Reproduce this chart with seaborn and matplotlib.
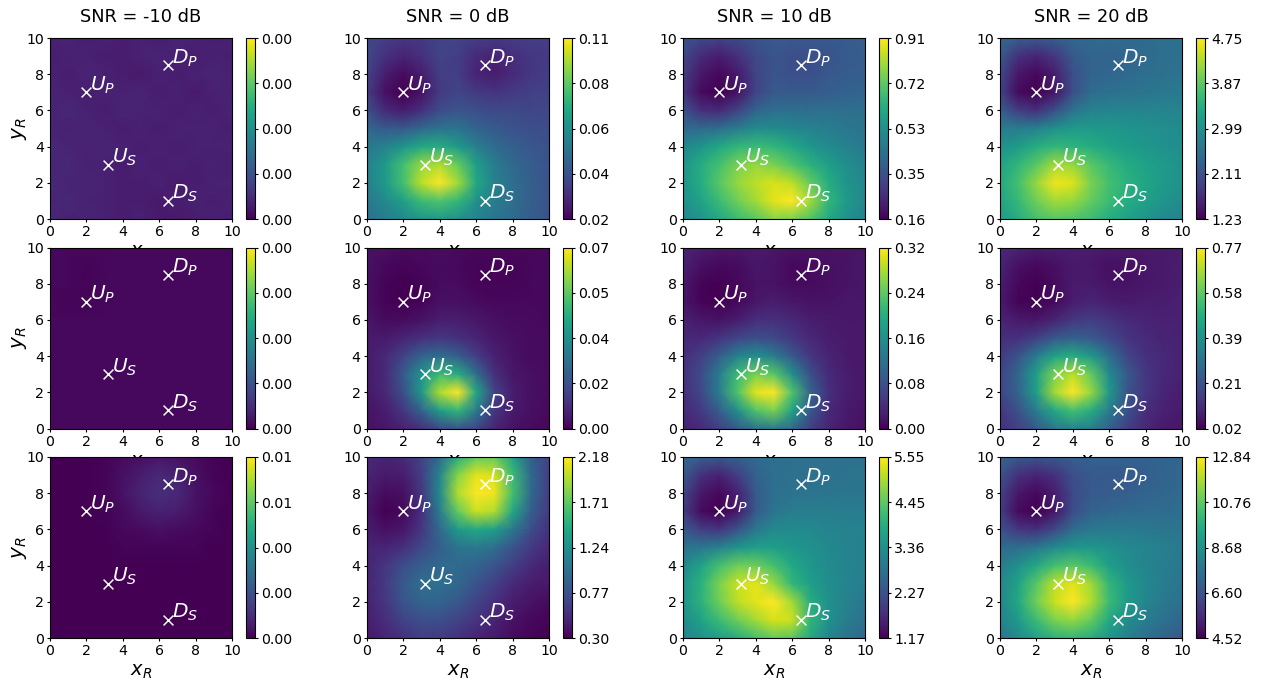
import numpy as np
import matplotlib
matplotlib.use('Agg')
import matplotlib.pyplot as plt
import seaborn as sns

# colour level of each panel, in % of its colour bar
# rows go from y=10 down to y=0, columns x=0..10
r0_m10 = [[9,10,8,9,8,9,8,10,9,8,9],[8,9,9,8,8,9,10,9,8,9,8],[9,8,10,9,8,7,9,8,9,10,9],
          [10,9,8,9,9,10,8,9,7,9,9],[9,11,9,8,10,9,9,8,9,8,10],[10,9,10,9,8,9,8,9,9,9,8],
          [11,10,9,10,9,8,9,8,9,9,9],[10,11,9,9,8,9,8,9,8,9,8],[11,10,10,9,8,8,9,7,8,9,9],
          [10,11,9,9,8,8,7,8,9,8,9],[11,9,10,9,8,9,7,7,8,9,8]]
r0_0 = [[22,18,16,17,20,20,18,17,18,18,18],[22,14,10,14,20,18,12,10,13,16,17],[20,8,3,8,18,18,10,8,12,16,18],
        [18,4,0,5,17,21,17,15,17,19,19],[24,12,8,14,23,26,24,22,22,21,21],[33,28,28,34,38,38,32,28,26,24,23],
        [40,44,52,60,62,54,43,35,30,27,25],[44,54,70,84,88,76,56,42,34,29,26],[43,54,70,90,100,86,60,44,36,30,26],
        [40,47,56,68,72,66,50,42,36,30,26],[37,42,47,52,54,50,44,39,34,29,25]]
r0_10 = [[26,22,20,22,26,28,28,28,28,29,30],[22,12,8,14,22,26,24,24,26,28,29],[18,6,2,7,20,26,24,24,27,29,30],
         [16,3,0,5,20,28,28,28,30,31,32],[25,14,12,20,32,36,36,36,36,36,36],[35,34,36,42,48,48,46,44,42,40,38],
         [46,52,60,66,68,66,60,53,48,44,41],[52,62,70,80,84,80,72,64,56,49,44],[52,62,74,84,90,94,90,76,62,52,46],
         [50,58,68,78,86,96,100,86,66,54,46],[46,52,60,68,74,82,80,72,60,50,44]]
r0_20 = [[34,30,28,30,33,34,34,34,35,36,37],[28,14,10,16,28,32,32,33,34,36,37],[22,6,2,8,24,32,33,34,36,37,38],
         [20,3,0,6,24,35,37,38,39,40,41],[30,18,14,24,38,44,45,45,45,45,45],[42,42,44,50,54,54,53,52,50,49,48],
         [50,55,62,66,65,62,58,55,53,51,49],[58,66,74,86,84,74,67,61,57,54,51],[60,70,84,98,95,80,70,64,59,54,51],
         [58,67,78,86,84,76,68,62,57,52,48],[55,62,70,74,72,68,62,57,52,47,44]]

r1_m10 = [[2,2,2,2,2,2,2,2,2,2,2],[2,2,1,2,2,2,2,2,2,2,2],[2,2,1,2,2,2,2,2,2,2,2],
          [2,1,1,2,2,2,2,2,2,2,2],[2,2,2,2,2,2,2,2,2,2,2],[2,2,2,2,2,2,2,2,2,2,2],
          [2,2,2,2,2,2,2,2,2,2,2],[2,2,2,2,2,2,2,2,2,2,2],[2,2,2,2,2,2,2,2,2,2,2],
          [2,2,2,2,2,2,2,2,2,2,2],[2,2,2,2,2,2,2,2,2,2,2]]
r1_0 = [[5,4,3,3,3,3,2,2,2,2,2],[5,2,1,2,3,2,1,1,1,2,2],[4,1,0,1,3,3,1,1,1,2,2],
        [4,1,0,1,4,4,3,2,2,2,2],[6,3,3,5,8,8,6,4,3,3,2],[7,7,10,14,16,14,10,6,4,3,3],
        [7,11,20,32,36,30,18,9,5,3,3],[7,12,28,52,68,62,36,14,6,4,3],[6,11,24,54,88,100,60,20,8,4,3],
        [5,8,16,32,56,66,42,16,7,4,2],[4,6,9,14,22,26,20,10,5,3,2]]
r1_10 = [[10,8,6,6,7,6,5,5,5,5,6],[9,4,2,3,6,5,2,3,4,5,6],[7,1,0,2,5,5,3,3,4,5,6],
         [6,1,0,2,6,8,6,5,5,6,6],[9,6,5,8,13,14,11,8,7,6,6],[11,11,15,21,24,22,16,11,8,7,6],
         [13,19,30,44,50,42,28,16,10,7,6],[14,23,42,68,80,74,50,24,12,8,6],[13,22,42,72,96,100,72,32,14,8,6],
         [11,17,30,50,72,80,58,28,12,7,5],[9,12,18,28,38,42,34,18,10,6,4]]
r1_20 = [[12,10,8,8,8,8,7,7,7,7,8],[10,4,2,4,7,6,4,4,6,7,8],[8,2,0,3,7,7,5,5,6,7,8],
         [7,1,0,3,8,10,8,7,8,8,9],[10,7,6,10,16,18,15,12,10,9,9],[13,14,19,27,31,28,22,15,12,10,9],
         [17,26,42,58,62,54,36,21,14,11,9],[20,33,56,80,90,76,48,28,16,11,9],[20,32,56,86,100,84,54,26,16,10,8],
         [16,25,42,60,70,62,42,25,13,9,7],[14,19,28,40,46,42,30,18,11,7,6]]

r2_m10 = [[0,0,0,1,3,4,6,5,3,1,0],[0,0,0,1,4,8,11,9,4,1,0],[0,0,0,1,5,10,13,11,5,2,0],
          [0,0,0,1,3,7,9,8,4,1,0],[0,0,0,0,2,3,4,3,2,1,0],[0,0,0,0,1,1,1,1,1,0,0],
          [0,0,0,0,0,0,0,0,0,0,0],[0,0,0,0,0,0,0,0,0,0,0],[0,0,0,0,0,0,0,0,0,0,0],
          [0,0,0,0,0,0,0,0,0,0,0],[0,0,0,0,0,0,0,0,0,0,0]]
r2_0 = [[12,10,12,20,35,62,76,76,58,30,20],[10,7,8,18,46,82,96,94,68,34,18],[8,3,4,16,48,88,100,98,70,34,18],
        [6,0,2,14,42,76,92,88,60,30,17],[8,4,6,16,34,54,60,56,40,24,14],[10,10,14,22,30,38,40,36,26,17,11],
        [10,16,24,30,34,34,32,26,18,12,8],[10,17,28,36,36,33,26,19,12,8,6],[9,16,26,32,32,27,20,14,8,5,3],
        [8,13,20,24,24,20,15,10,5,2,1],[6,10,14,18,17,14,10,7,3,1,0]]
r2_10 = [[34,30,28,31,35,37,37,37,37,37,37],[28,14,9,18,31,36,37,37,37,38,38],[22,6,2,9,28,36,38,38,39,39,39],
         [18,3,0,7,28,39,42,42,42,42,42],[28,18,16,26,40,47,48,47,45,44,44],[38,40,44,52,56,56,53,50,47,45,43],
         [46,58,70,78,78,70,60,53,48,45,43],[52,64,80,92,96,84,66,56,49,45,42],[52,64,78,90,96,100,86,62,50,44,40],
         [48,58,68,78,86,94,92,66,50,42,37],[44,50,56,62,70,76,74,60,46,38,33]]
r2_20 = [[33,28,26,28,30,31,31,31,31,32,33],[26,14,10,14,24,28,28,28,30,32,33],[20,6,2,8,22,28,29,30,32,33,34],
         [18,3,0,6,23,31,33,34,35,35,36],[26,16,14,22,35,40,41,41,40,39,39],[35,36,40,48,53,53,50,47,45,43,41],
         [42,50,60,70,74,68,56,49,45,42,40],[46,58,74,90,96,86,66,54,47,42,39],[46,60,78,92,100,88,68,54,46,40,37],
         [44,54,68,80,84,76,60,49,42,37,33],[39,47,57,64,66,62,52,43,36,32,28]]

panels = [[r0_m10, r0_0, r0_10, r0_20],
          [r1_m10, r1_0, r1_10, r1_20],
          [r2_m10, r2_0, r2_10, r2_20]]

snr_titles = ['SNR = -10 dB', 'SNR = 0 dB', 'SNR = 10 dB', 'SNR = 20 dB']

# colour bar limits
vmins = [[0.0, 0.02, 0.16, 1.23],
         [0.0, 0.0, 0.0, 0.02],
         [0.0, 0.30, 1.17, 4.52]]
vmaxs = [[0.004, 0.11, 0.91, 4.75],
         [0.004, 0.07, 0.32, 0.77],
         [0.008, 2.18, 5.55, 12.84]]

# colour bar labels, bottom to top
cbar_labels = [[['0.00'] * 5, ['0.02', '0.04', '0.06', '0.08', '0.11'],
                ['0.16', '0.35', '0.53', '0.72', '0.91'], ['1.23', '2.11', '2.99', '3.87', '4.75']],
               [['0.00'] * 5, ['0.00', '0.02', '0.04', '0.05', '0.07'],
                ['0.00', '0.08', '0.16', '0.24', '0.32'], ['0.02', '0.21', '0.39', '0.58', '0.77']],
               [['0.00', '0.00', '0.00', '0.01', '0.01'], ['0.30', '0.77', '1.24', '1.71', '2.18'],
                ['1.17', '2.27', '3.36', '4.45', '5.55'], ['4.52', '6.60', '8.68', '10.76', '12.84']]]

node_x = [2, 3.2, 6.5, 6.5]
node_y = [7, 3, 8.5, 1]
node_names = ['$U_P$', '$U_S$', '$D_P$', '$D_S$']

W, H = 1269, 681
ax_left = [50, 367, 683, 1000]
ax_top = [38, 247.5, 457]
ax_w, ax_h = 182, 181
cb_gap, cb_w = 13.5, 9.5

cmap = sns.color_palette('viridis', as_cmap=True)
fig = plt.figure(figsize=(W / 100, H / 100), dpi=100)

for r in range(3):
    for c in range(4):
        ax = fig.add_axes([ax_left[c] / W, 1 - (ax_top[r] + ax_h) / H, ax_w / W, ax_h / H])
        cax = fig.add_axes([(ax_left[c] + ax_w + cb_gap) / W, 1 - (ax_top[r] + ax_h) / H, cb_w / W, ax_h / H])
        lo, hi = vmins[r][c], vmaxs[r][c]
        vals = lo + np.array(panels[r][c], dtype=float)[::-1] / 100 * (hi - lo)
        sns.heatmap(vals, ax=ax, cbar_ax=cax, cmap=cmap, vmin=lo, vmax=hi, shading='gouraud')
        ax.set_xlim(0, 10)
        ax.set_ylim(0, 10)
        ticks = [0, 2, 4, 6, 8, 10]
        ax.set_xticks(ticks, [str(t) for t in ticks], rotation=0)
        ax.set_yticks(ticks, [str(t) for t in ticks], rotation=0, va='center_baseline')
        ax.tick_params(labelsize=10.2, length=2.5, pad=2)
        for s in ax.spines.values():
            s.set_visible(True)
        ax.scatter(node_x, node_y, marker='x', s=50, c='white', linewidths=1.1, zorder=3)
        for x, y, name in zip(node_x, node_y, node_names):
            ax.text(x + 0.2, y + 0.1, name, color='white', fontsize=14.5, zorder=4)
        ax.set_xlabel('$x_R$', fontsize=14, labelpad=3)
        if c == 0:
            ax.set_ylabel('$y_R$', fontsize=14.5, labelpad=-2)
        if r == 0:
            ax.set_title(snr_titles[c], fontsize=12.8, pad=11.5)
        cb = ax.collections[0].colorbar
        cb.outline.set_linewidth(0.8)
        cb.outline.set_edgecolor('black')
        cb.set_ticks(np.linspace(lo, hi, 5), labels=cbar_labels[r][c])
        cax.tick_params(labelsize=10.2, length=2.5, pad=2)

fig.savefig('out.png', dpi=100)
